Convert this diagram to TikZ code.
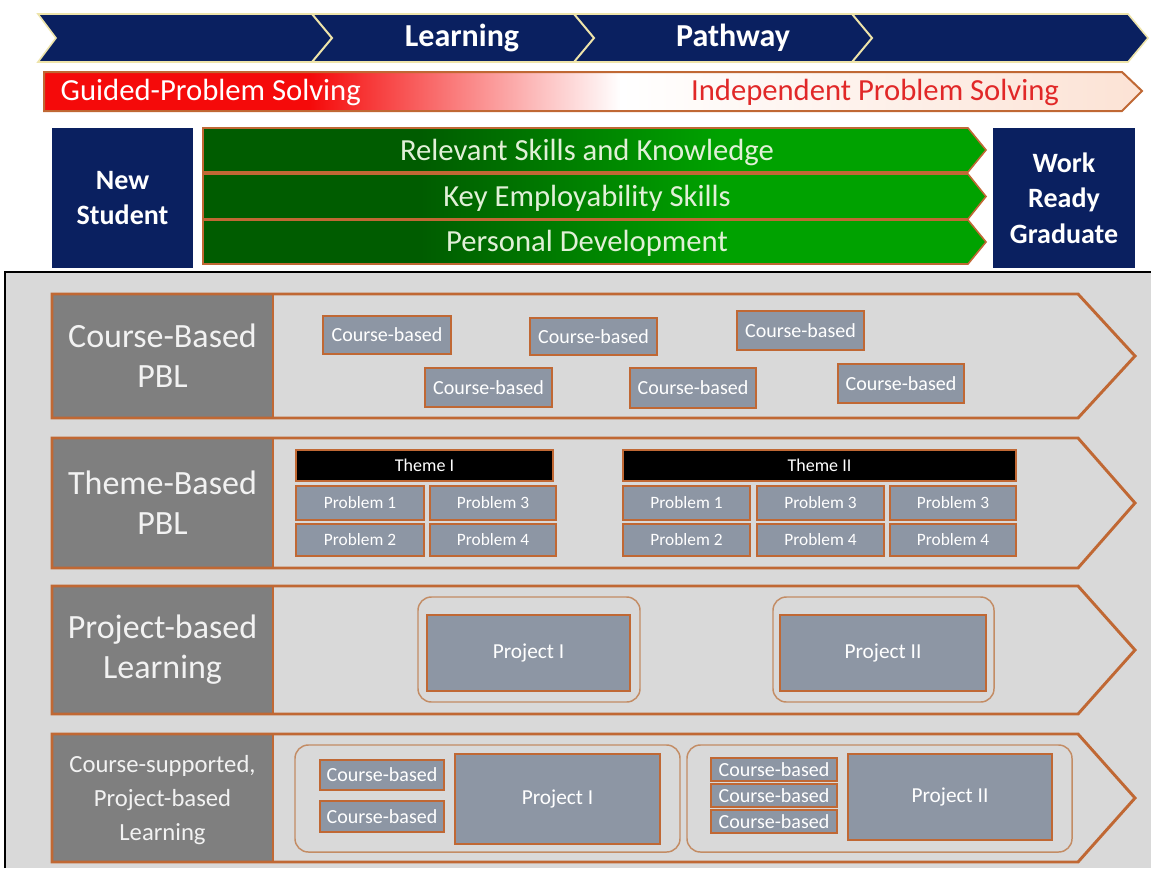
\documentclass[tikz,border=0pt]{standalone}
\usepackage{fontspec}
\setmainfont{Carlito}
\definecolor{navy}{RGB}{10,32,96}
\definecolor{cream}{RGB}{238,228,170}
\definecolor{redL}{RGB}{245,10,10}
\definecolor{peach}{RGB}{252,226,212}
\definecolor{indep}{RGB}{225,40,40}
\definecolor{gdark}{RGB}{0,92,0}
\definecolor{glight}{RGB}{0,162,0}
\definecolor{gtext}{RGB}{225,240,215}
\definecolor{oborder}{RGB}{192,104,52}
\definecolor{panel}{RGB}{217,217,217}
\definecolor{lab}{RGB}{127,127,127}
\definecolor{bfill}{RGB}{141,150,164}
\definecolor{cont}{RGB}{195,140,100}
\newcommand\pbox[6]{\node[#2, minimum width={(#5-#3)*0.75pt}, minimum height={(#6-#4)*0.75pt}] (#1) at ({(#3+#5)/2},{(#4+#6)/2})}
\newcommand\rowshape[2]{%
  \path[fill=panel] (52,#1) -- (1078,#1) -- (1135,{(#1+#2)/2}) -- (1078,#2) -- (52,#2) -- cycle;
  \fill[lab] (52,#1) rectangle (273,#2);
  \draw[rowline] (52,#1) -- (1078,#1) -- (1135,{(#1+#2)/2}) -- (1078,#2) -- (52,#2) -- cycle;
  \draw[rowline] (273,#1) -- (273,#2);}
\newcommand\greenarrow[2]{%
  \begin{scope}
  \clip (203,#1) -- (968,#1) -- (986,{(#1+#2)/2}) -- (968,#2) -- (203,#2) -- cycle;
  \fill[gdark] (200,#1) rectangle (421,#2);
  \shade[left color=gdark, right color=glight] (420,#1) rectangle (721,#2);
  \fill[glight] (720,#1) rectangle (990,#2);
  \end{scope}
  \draw[draw=oborder, line width=1.2pt] (203,#1) -- (968,#1) -- (986,{(#1+#2)/2}) -- (968,#2) -- (203,#2) -- cycle;}
\begin{document}
\begin{tikzpicture}[x=0.75pt,y=-0.75pt,
  bantext/.style={text=white, font=\fontsize{24}{28}\selectfont\bfseries},
  navybox/.style={fill=navy, inner sep=0pt, outer sep=0pt, text=white, align=center, font=\fontsize{21}{26.5}\selectfont\bfseries},
  greentext/.style={text=gtext, font=\fontsize{23}{27}\selectfont},
  rowline/.style={draw=oborder, line width=2.2pt, line join=miter},
  rowlabel/.style={text=white!95!black, align=center, font=\fontsize{25.5}{30}\selectfont},
  smallbox/.style={fill=bfill, draw=oborder, line width=1.4pt, inner sep=0pt, text=white, font=\fontsize{15}{17}\selectfont},
  probbox/.style={smallbox, font=\fontsize{13}{15}\selectfont},
  themebar/.style={fill=black, draw=oborder, line width=1.2pt, inner sep=0pt, text=white, font=\fontsize{13.5}{15}\selectfont},
  projbox/.style={smallbox, font=\fontsize{16}{18}\selectfont},
  container/.style={draw=cont, line width=1.1pt, rounded corners=10pt}]
\useasboundingbox (0,0) rectangle (1151,868);
\fill[white] (0,0) rectangle (1151,868);
% --- top banner
\path[fill=navy, draw=cream, line width=1.2pt] (38,14) -- (1128,14) -- (1148,38) -- (1128,62) -- (38,62) -- (56,38) -- cycle;
\draw[cream, line width=1.5pt] (312,14) -- (332,38) -- (312,62);
\draw[cream, line width=1.5pt] (574,14) -- (594,38) -- (574,62);
\draw[cream, line width=1.5pt] (852,14) -- (872,38) -- (852,62);
\node[bantext] (learn) at (462,38) {Learning};
\node[bantext] (pathw) at (733,38) {Pathway};
% --- red bar
\begin{scope}
\clip (44,72) -- (1122,72) -- (1142,91) -- (1122,111) -- (44,111) -- cycle;
\fill[redL] (40,70) rectangle (311,115);
\shade[left color=redL, right color=white] (310,70) rectangle (621,115);
\shade[left color=white, right color=peach] (620,70) rectangle (1150,115);
\end{scope}
\draw[oborder, line width=1.5pt] (44,72) -- (1122,72) -- (1142,91) -- (1122,111) -- (44,111) -- cycle;
\node[anchor=west, text=white, font=\fontsize{23}{27}\selectfont] (guided) at (56,92) {Guided-Problem Solving};
\node[text=indep, font=\fontsize{23}{27}\selectfont] (indepn) at (875,92) {Independent Problem Solving};
% --- student / graduate
\pbox{newst}{navybox}{52}{128}{193}{268}{New\\Student};
\pbox{grad}{navybox}{993}{128}{1135}{268}{Work\\Ready\\Graduate};
% --- green arrows
\greenarrow{128}{172}
\greenarrow{174}{219}
\greenarrow{220}{264}
\node[greentext] (rel) at (587,152) {Relevant Skills and Knowledge};
\node[greentext] (key) at (587,198) {Key Employability Skills};
\node[greentext] (pers) at (587,243) {Personal Development};
% --- grey panel
\fill[panel] (5,272) rectangle (1151,868);
\draw[black, line width=1.6pt] (5,868) -- (5,272) -- (1151,272);
% --- row 1
\rowshape{294}{418}
\node[rowlabel] (r1) at (162.5,356) {Course-Based\\PBL};
\pbox{cb1}{smallbox}{323}{316}{451}{354}{Course-based};
\pbox{cb2}{smallbox}{530}{318}{657}{355}{Course-based};
\pbox{cb3}{smallbox}{737}{311}{864}{350}{Course-based};
\pbox{cb4}{smallbox}{425}{368}{552}{407}{Course-based};
\pbox{cb5}{smallbox}{630}{368}{756}{408}{Course-based};
\pbox{cb6}{smallbox}{838}{364}{964}{403}{Course-based};
% --- row 2
\rowshape{438}{568}
\node[rowlabel] (r2) at (162.5,503) {Theme-Based\\PBL};
\pbox{th1}{themebar}{296}{450}{553}{481}{Theme I};
\pbox{t1p1}{probbox}{296}{486}{424}{520}{Problem 1};
\pbox{t1p3}{probbox}{430}{486}{556}{520}{Problem 3};
\pbox{t1p2}{probbox}{296}{524}{424}{556}{Problem 2};
\pbox{t1p4}{probbox}{430}{524}{556}{556}{Problem 4};
\pbox{th2}{themebar}{623}{450}{1016}{481}{Theme II};
\pbox{t2p1}{probbox}{623}{486}{750}{520}{Problem 1};
\pbox{t2p3}{probbox}{757}{486}{884}{520}{Problem 3};
\pbox{t2p3b}{probbox}{890}{486}{1016}{520}{Problem 3};
\pbox{t2p2}{probbox}{623}{524}{750}{556}{Problem 2};
\pbox{t2p4}{probbox}{757}{524}{884}{556}{Problem 4};
\pbox{t2p4b}{probbox}{890}{524}{1016}{556}{Problem 4};
% --- row 3
\rowshape{586}{714}
\node[rowlabel] (r3) at (162.5,650) {Project-based\\Learning};
\draw[container] (418,597) rectangle (640,702);
\draw[container] (773,597) rectangle (994,702);
\pbox{pj1}{projbox}{427}{615}{630}{691}{Project I};
\pbox{pj2}{projbox}{780}{615}{986}{691}{Project II};
% --- row 4
\rowshape{734}{862}
\node[rowlabel, font=\fontsize{18.5}{25.5}\selectfont] (r4) at (162.5,800) {Course-supported,\\Project-based\\Learning};
\draw[container] (295,745) rectangle (680,852);
\draw[container] (687,745) rectangle (1072,852);
\pbox{cbA}{smallbox}{320}{760}{444}{790}{Course-based};
\pbox{cbB}{smallbox}{320}{801}{444}{832}{Course-based};
\pbox{pj3}{projbox}{455}{754}{660}{844}{Project I};
\pbox{cbC}{smallbox}{711}{758}{837}{781}{Course-based};
\pbox{cbD}{smallbox}{711}{784}{837}{807}{Course-based};
\pbox{cbE}{smallbox}{711}{810}{837}{833}{Course-based};
\pbox{pj4}{projbox}{848}{754}{1052}{840}{Project II};
\end{tikzpicture}
\end{document}
